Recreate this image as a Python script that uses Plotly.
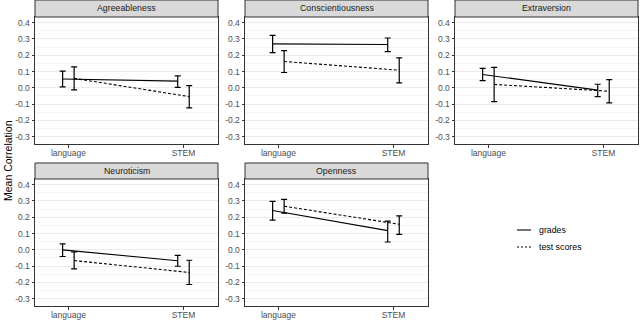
import plotly.graph_objects as go

# ---------------- data ----------------
traits = ["Agreeableness", "Conscientiousness", "Extraversion", "Neuroticism", "Openness"]
domains = ["language", "STEM"]
y_ticks = [-0.3, -0.2, -0.1, 0.0, 0.1, 0.2, 0.3, 0.4]
y_tick_labels = ["-0.3", "-0.2", "-0.1", "0.0", "0.1", "0.2", "0.3", "0.4"]

# grades: mean, lower, upper per domain (language, STEM)
grades_mean = {
    "Agreeableness": [0.054, 0.041],
    "Conscientiousness": [0.270, 0.266],
    "Extraversion": [0.082, -0.014],
    "Neuroticism": [0.000, -0.067],
    "Openness": [0.242, 0.118],
}
grades_low = {
    "Agreeableness": [0.006, 0.003],
    "Conscientiousness": [0.216, 0.222],
    "Extraversion": [0.044, -0.054],
    "Neuroticism": [-0.041, -0.101],
    "Openness": [0.182, 0.048],
}
grades_high = {
    "Agreeableness": [0.103, 0.073],
    "Conscientiousness": [0.322, 0.306],
    "Extraversion": [0.120, 0.022],
    "Neuroticism": [0.037, -0.034],
    "Openness": [0.298, 0.176],
}
# test scores
test_mean = {
    "Agreeableness": [0.058, -0.054],
    "Conscientiousness": [0.162, 0.108],
    "Extraversion": [0.021, -0.021],
    "Neuroticism": [-0.066, -0.139],
    "Openness": [0.268, 0.157],
}
test_low = {
    "Agreeableness": [-0.012, -0.123],
    "Conscientiousness": [0.094, 0.031],
    "Extraversion": [-0.085, -0.092],
    "Neuroticism": [-0.117, -0.213],
    "Openness": [0.226, 0.095],
}
test_high = {
    "Agreeableness": [0.129, 0.013],
    "Conscientiousness": [0.229, 0.184],
    "Extraversion": [0.126, 0.050],
    "Neuroticism": [-0.012, -0.064],
    "Openness": [0.310, 0.208],
}

# ---------------- layout constants ----------------
W, H = 640, 321
DODGE = 0.05
X_RANGE = [-0.29, 1.30]
Y_RANGE = [-0.345, 0.435]

# panel pixel boxes (x0, x1) and (strip_top, plot_top, plot_bottom)
cols_px = [(35, 218), (245, 428), (455, 638)]
rows_px = [(0, 17, 144), (163, 179, 306)]

def px_x(v):
    return v / W

def px_y(v):
    return 1 - v / H

fig = go.Figure()
shapes = []
annotations = []

FONT = "Liberation Sans, Arial, sans-serif"
DARK = "#333333"
GRID = "#ebebeb"

for i, trait in enumerate(traits):
    r, c = divmod(i, 3)
    x0, x1 = cols_px[c]
    st, pt, pb = rows_px[r]
    ax = "" if i == 0 else str(i + 1)
    xa = "xaxis" + ax
    ya = "yaxis" + ax

    xs = list(range(len(domains)))
    for name, mean, lo, hi, dash, off in [
        ("grades", grades_mean, grades_low, grades_high, "solid", -DODGE),
        ("test scores", test_mean, test_low, test_high, "3px,2px", DODGE),
    ]:
        m = mean[trait]
        fig.add_trace(go.Scatter(
            x=[x + off for x in xs], y=m,
            mode="lines",
            line=dict(color="black", width=1.1, dash=dash),
            error_y=dict(type="data", symmetric=False,
                         array=[h - v for h, v in zip(hi[trait], m)],
                         arrayminus=[v - l for l, v in zip(lo[trait], m)],
                         color="black", thickness=1.2, width=3),
            xaxis="x" + ax, yaxis="y" + ax, showlegend=False, name=name,
            hoverinfo="skip",
        ))

    fig.layout[xa] = dict(
        domain=[px_x(x0), px_x(x1)], range=X_RANGE, anchor="y" + ax,
        tickvals=xs, ticktext=domains, showgrid=False, zeroline=False,
        ticks="outside", ticklen=2.5, tickcolor=DARK, tickwidth=1,
        ticklabelstandoff=-2,
        tickfont=dict(family=FONT, size=8.5, color="#4d4d4d"),
        showline=True, mirror=True, linecolor=DARK, linewidth=1,
        fixedrange=True,
    )
    minor_vals = [round(v + 0.05, 2) for v in [-0.4] + y_ticks]
    fig.layout[ya] = dict(
        domain=[px_y(pb), px_y(pt)], range=Y_RANGE, anchor="x" + ax,
        tickvals=y_ticks, ticktext=y_tick_labels, showgrid=True,
        gridcolor=GRID, gridwidth=1, zeroline=False,
        minor=dict(tickvals=minor_vals, showgrid=True, gridcolor="#f4f4f4",
                   gridwidth=0.6, ticks=""),
        ticks="outside", ticklen=2.5, tickcolor=DARK, tickwidth=1,
        tickfont=dict(family=FONT, size=8.5, color="#4d4d4d"),
        showline=True, mirror=True, linecolor=DARK, linewidth=1,
        fixedrange=True,
    )

    # strip
    shapes.append(dict(type="rect", xref="paper", yref="paper",
                       x0=px_x(x0), x1=px_x(x1), y0=px_y(pt), y1=px_y(st),
                       fillcolor="#d9d9d9", line=dict(color=DARK, width=1),
                       layer="above"))
    annotations.append(dict(text=trait, xref="paper", yref="paper",
                            x=px_x((x0 + x1) / 2), y=px_y((st + pt) / 2),
                            showarrow=False, xanchor="center", yanchor="middle",
                            font=dict(family=FONT, size=8.8, color="#1a1a1a")))

# y title
annotations.append(dict(text="Mean Correlation", xref="paper", yref="paper",
                        x=px_x(8), y=px_y(161), textangle=-90, showarrow=False,
                        xanchor="center", yanchor="middle",
                        font=dict(family=FONT, size=10.5, color="black")))

# manual legend
for label, dash, yy in [("grades", "solid", 230), ("test scores", "dot", 247)]:
    shapes.append(dict(type="line", xref="paper", yref="paper",
                       x0=px_x(517), x1=px_x(531), y0=px_y(yy), y1=px_y(yy),
                       line=dict(color="black", width=1.1,
                                 dash="solid" if dash == "solid" else "2px,2px")))
    annotations.append(dict(text=label, xref="paper", yref="paper",
                            x=px_x(537), y=px_y(yy), showarrow=False,
                            xanchor="left", yanchor="middle",
                            font=dict(family=FONT, size=8.8, color="black")))

fig.update_layout(
    width=W, height=H, margin=dict(l=0, r=0, t=0, b=0),
    paper_bgcolor="white", plot_bgcolor="white",
    shapes=shapes, annotations=annotations, showlegend=False,
)

fig.write_html("out.html")
